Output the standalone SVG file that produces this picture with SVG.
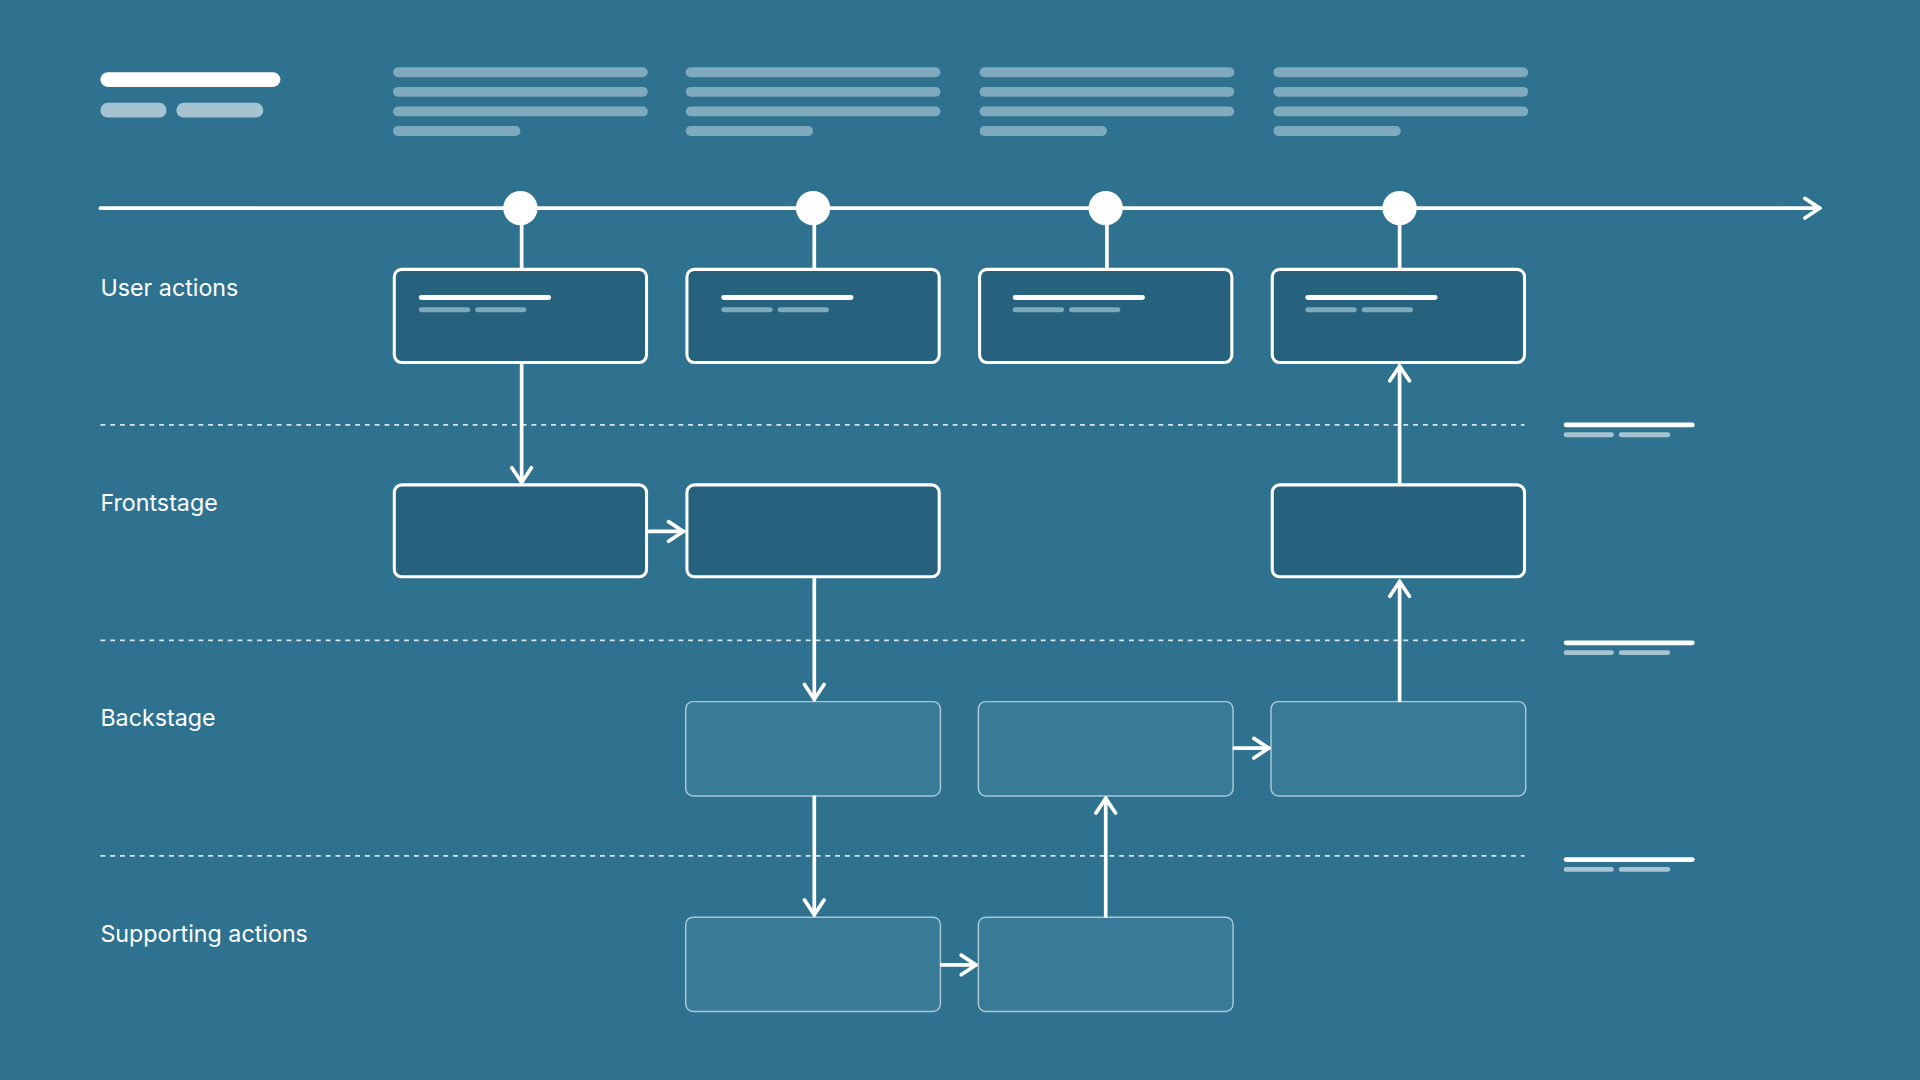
<svg xmlns="http://www.w3.org/2000/svg" width="1920" height="1080" viewBox="0 0 1920 1080">
<defs>
<style>
.dk{fill:#26617D;stroke:#fff;stroke-width:2.5}
.lt{fill:#397A96;stroke:#A9C8D6;stroke-width:1.2}
.ln{stroke:#fff;stroke-width:3;fill:none;stroke-linecap:round;stroke-linejoin:round}
.ds{stroke:#D6E4EB;stroke-width:1.5;stroke-dasharray:4 4}
.tx{font-family:Inter,"Liberation Sans",sans-serif;font-size:19px;fill:#fff}
.g{fill:#7FA9BC}
.gs{fill:#A5C3D0}
</style>
<marker id="ah" viewBox="0 0 20 20" refX="18" refY="10" markerWidth="20" markerHeight="20" markerUnits="userSpaceOnUse" orient="auto"><path d="M6 2 L18 10 L6 18" fill="none" stroke="#fff" stroke-width="3" stroke-linecap="round"/></marker>
</defs>
<rect width="1920" height="1080" fill="#2E7290"/>
<g transform="scale(1.2245)">
<g id="header">
<rect x="82" y="59" width="147" height="12" rx="6" fill="#fff"/>
<rect x="82" y="84" width="54" height="12" rx="6" class="gs"/>
<rect x="144" y="84" width="71" height="12" rx="6" class="gs"/>
<g id="col-text">
<g transform="translate(321,0)"><rect y="55" width="208" height="8" rx="4" class="g"/><rect y="71" width="208" height="8" rx="4" class="g"/><rect y="87" width="208" height="8" rx="4" class="g"/><rect y="103" width="104" height="8" rx="4" class="g"/></g>
<g transform="translate(560,0)"><rect y="55" width="208" height="8" rx="4" class="g"/><rect y="71" width="208" height="8" rx="4" class="g"/><rect y="87" width="208" height="8" rx="4" class="g"/><rect y="103" width="104" height="8" rx="4" class="g"/></g>
<g transform="translate(800,0)"><rect y="55" width="208" height="8" rx="4" class="g"/><rect y="71" width="208" height="8" rx="4" class="g"/><rect y="87" width="208" height="8" rx="4" class="g"/><rect y="103" width="104" height="8" rx="4" class="g"/></g>
<g transform="translate(1040,0)"><rect y="55" width="208" height="8" rx="4" class="g"/><rect y="71" width="208" height="8" rx="4" class="g"/><rect y="87" width="208" height="8" rx="4" class="g"/><rect y="103" width="104" height="8" rx="4" class="g"/></g>
</g>
</g>
<g id="timeline">
<line x1="82" y1="170" x2="1486" y2="170" class="ln" marker-end="url(#ah)"/>
<line x1="426" y1="170" x2="426" y2="220" class="ln"/>
<line x1="665" y1="170" x2="665" y2="220" class="ln"/>
<line x1="904" y1="170" x2="904" y2="220" class="ln"/>
<line x1="1143" y1="170" x2="1143" y2="220" class="ln"/>
<circle cx="425" cy="170" r="14" fill="#fff"/><circle cx="664" cy="170" r="14" fill="#fff"/><circle cx="903" cy="170" r="14" fill="#fff"/><circle cx="1143" cy="170" r="14" fill="#fff"/>
</g>
<g id="lanes">
<line x1="82" y1="347" x2="1245" y2="347" class="ds"/>
<line x1="82" y1="523" x2="1245" y2="523" class="ds"/>
<line x1="82" y1="699" x2="1245" y2="699" class="ds"/>
<text x="82" y="242" class="tx">User actions</text>
<text x="82" y="417" class="tx">Frontstage</text>
<text x="82" y="593" class="tx">Backstage</text>
<text x="82" y="769" class="tx">Supporting actions</text>
<g id="legend">
<rect x="1277" y="345" width="107" height="4" rx="2" fill="#fff"/><rect x="1277" y="353" width="41" height="4" rx="2" class="gs"/><rect x="1322" y="353" width="42" height="4" rx="2" class="gs"/>
<rect x="1277" y="523" width="107" height="4" rx="2" fill="#fff"/><rect x="1277" y="531" width="41" height="4" rx="2" class="gs"/><rect x="1322" y="531" width="42" height="4" rx="2" class="gs"/>
<rect x="1277" y="700" width="107" height="4" rx="2" fill="#fff"/><rect x="1277" y="708" width="41" height="4" rx="2" class="gs"/><rect x="1322" y="708" width="42" height="4" rx="2" class="gs"/>
</g>
</g>
<g id="u1"><rect x="322" y="220" width="206" height="76" rx="6" class="dk"/><rect x="342" y="241" width="108" height="4" rx="2" fill="#fff"/><rect x="342" y="251" width="42" height="4" rx="2" class="g"/><rect x="388" y="251" width="42" height="4" rx="2" class="g"/></g>
<g id="u2"><rect x="561" y="220" width="206" height="76" rx="6" class="dk"/><rect x="589" y="241" width="108" height="4" rx="2" fill="#fff"/><rect x="589" y="251" width="42" height="4" rx="2" class="g"/><rect x="635" y="251" width="42" height="4" rx="2" class="g"/></g>
<g id="u3"><rect x="800" y="220" width="206" height="76" rx="6" class="dk"/><rect x="827" y="241" width="108" height="4" rx="2" fill="#fff"/><rect x="827" y="251" width="42" height="4" rx="2" class="g"/><rect x="873" y="251" width="42" height="4" rx="2" class="g"/></g>
<g id="u4"><rect x="1039" y="220" width="206" height="76" rx="6" class="dk"/><rect x="1066" y="241" width="108" height="4" rx="2" fill="#fff"/><rect x="1066" y="251" width="42" height="4" rx="2" class="g"/><rect x="1112" y="251" width="42" height="4" rx="2" class="g"/></g>
<g id="f1"><rect x="322" y="396" width="206" height="75" rx="6" class="dk"/></g>
<g id="f2"><rect x="561" y="396" width="206" height="75" rx="6" class="dk"/></g>
<g id="f4"><rect x="1039" y="396" width="206" height="75" rx="6" class="dk"/></g>
<g id="b2"><rect x="560" y="573" width="208" height="77" rx="6" class="lt"/></g>
<g id="b3"><rect x="799" y="573" width="208" height="77" rx="6" class="lt"/></g>
<g id="b4"><rect x="1038" y="573" width="208" height="77" rx="6" class="lt"/></g>
<g id="s2"><rect x="560" y="749" width="208" height="77" rx="6" class="lt"/></g>
<g id="s3"><rect x="799" y="749" width="208" height="77" rx="6" class="lt"/></g>
<g id="connectors">
<line x1="426" y1="298" x2="426" y2="394" class="ln" marker-end="url(#ah)"/>
<line x1="530" y1="434" x2="558" y2="434" class="ln" marker-end="url(#ah)"/>
<line x1="665" y1="473" x2="665" y2="571" class="ln" marker-end="url(#ah)"/>
<line x1="665" y1="651" x2="665" y2="747" class="ln" marker-end="url(#ah)"/>
<line x1="769" y1="788" x2="797" y2="788" class="ln" marker-end="url(#ah)"/>
<line x1="903" y1="748" x2="903" y2="652" class="ln" marker-end="url(#ah)"/>
<line x1="1008" y1="611" x2="1036" y2="611" class="ln" marker-end="url(#ah)"/>
<line x1="1143" y1="572" x2="1143" y2="475" class="ln" marker-end="url(#ah)"/>
<line x1="1143" y1="395" x2="1143" y2="299" class="ln" marker-end="url(#ah)"/>
</g>
</g>
</svg>
